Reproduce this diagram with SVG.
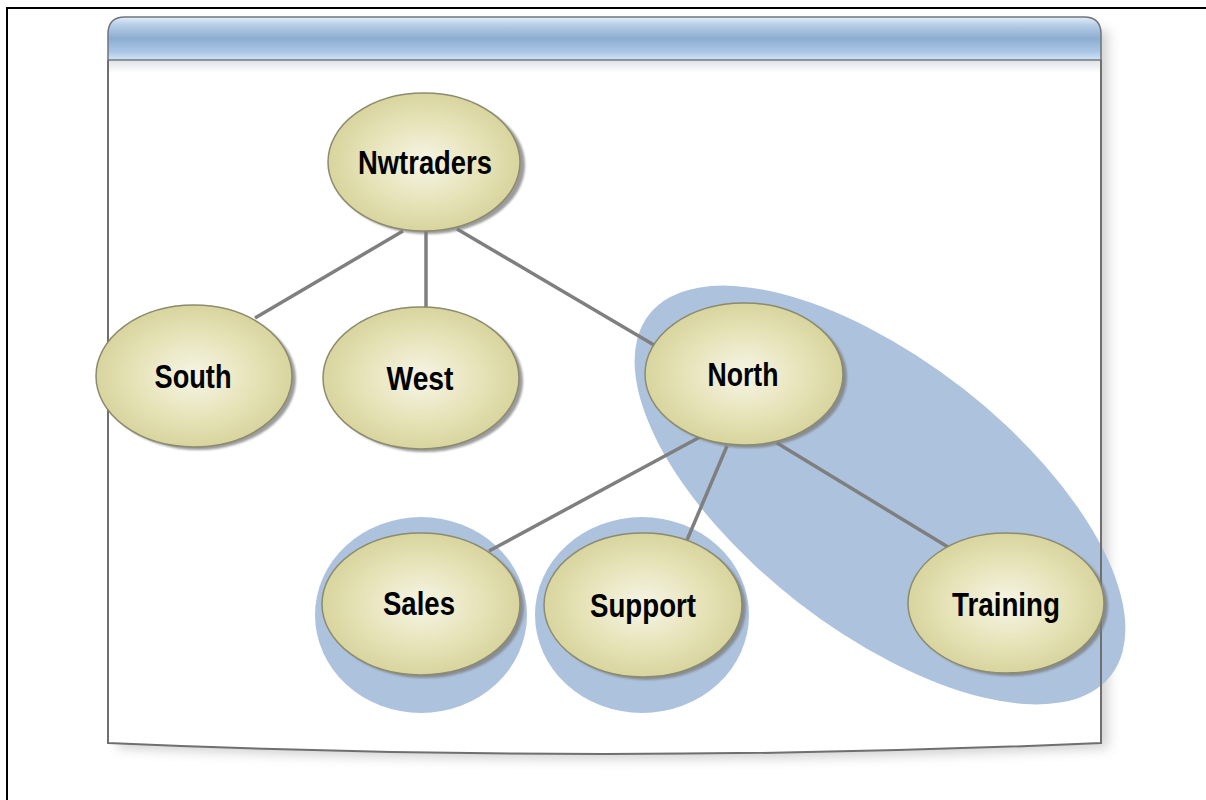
<svg xmlns="http://www.w3.org/2000/svg" width="1206" height="800" viewBox="0 0 1206 800">
<defs>
<style>
.node-shape{fill:url(#nodeGrad);stroke:#8c8b6e;stroke-width:1.5}
.node-shadow{fill:#7a7a7a;opacity:0.75}
.lbl{font-family:"Liberation Sans",Arial,sans-serif;font-weight:bold;font-size:33px;fill:#000;text-anchor:middle}
.conn{stroke:#7f7f7f;stroke-width:3.5;fill:none;stroke-linecap:butt}
.grp{fill:#adc2dd}
</style>
<radialGradient id="nodeGrad" cx="0.5" cy="0.5" r="0.55">
<stop offset="0" stop-color="#f6f5e6"/>
<stop offset="0.55" stop-color="#e6e3b8"/>
<stop offset="1" stop-color="#d5d198"/>
</radialGradient>
<linearGradient id="hdrGrad" x1="0" y1="0" x2="0" y2="1">
<stop offset="0" stop-color="#e2ecf7"/>
<stop offset="0.2" stop-color="#b4cce6"/>
<stop offset="0.5" stop-color="#8dadd0"/>
<stop offset="0.8" stop-color="#a9c6e6"/>
<stop offset="1" stop-color="#d3e4f6"/>
</linearGradient>
<linearGradient id="hdrShadow" x1="0" y1="0" x2="0" y2="1">
<stop offset="0" stop-color="#dfe3e8"/>
<stop offset="1" stop-color="#ffffff"/>
</linearGradient>
<filter id="blur" x="-10%" y="-10%" width="120%" height="120%">
<feGaussianBlur stdDeviation="6"/>
</filter>
<filter id="nblur" x="-10%" y="-10%" width="120%" height="120%">
<feGaussianBlur stdDeviation="1.2"/>
</filter>
</defs>
<rect x="0" y="0" width="1206" height="800" fill="#ffffff"/>
<path d="M7 800 V8 H1206" fill="none" stroke="#000" stroke-width="2"/>

<g id="panel">
<path d="M118 30 H1108 V748 Q612 770 118 748 Z" fill="#9a9a9a" opacity="0.45" filter="url(#blur)"/>
<path d="M108 60 H1101 V743 Q604 765 108 743 Z" fill="#ffffff"/>
<rect x="109" y="61" width="991" height="12" fill="url(#hdrShadow)"/>
<path d="M108 60 V34 Q108 17 125 17 H1084 Q1101 17 1101 34 V60 Z" fill="url(#hdrGrad)" stroke="#6f747a" stroke-width="1.5"/>
</g>

<g id="groups">
<ellipse class="grp" cx="880" cy="495" rx="293" ry="135" transform="rotate(38 880 495)"/>
<ellipse class="grp" cx="421" cy="615" rx="106" ry="98"/>
<ellipse class="grp" cx="642" cy="615" rx="107" ry="98"/>
</g>

<path d="M1101 60 V743 Q604 765 108 743 V60" fill="none" stroke="#6f6f6f" stroke-width="2"/>

<g id="connectors">
<line class="conn" x1="403" y1="231" x2="255" y2="318"/>
<line class="conn" x1="426" y1="231" x2="426" y2="307"/>
<line class="conn" x1="457" y1="229" x2="654" y2="345"/>
<line class="conn" x1="700" y1="437" x2="489" y2="551"/>
<line class="conn" x1="727" y1="446" x2="687" y2="540"/>
<line class="conn" x1="777" y1="443" x2="948" y2="547"/>
</g>

<g id="node-nwtraders">
<ellipse class="node-shadow" cx="428" cy="165" rx="97" ry="69" filter="url(#nblur)"/>
<ellipse class="node-shape" cx="424" cy="162" rx="96" ry="69"/>
<text class="lbl" x="425" y="174" textLength="134" lengthAdjust="spacingAndGlyphs">Nwtraders</text>
</g>
<g id="node-south">
<ellipse class="node-shadow" cx="198" cy="379" rx="98" ry="71" filter="url(#nblur)"/>
<ellipse class="node-shape" cx="194" cy="376" rx="98" ry="71"/>
<text class="lbl" x="193" y="388" textLength="77" lengthAdjust="spacingAndGlyphs">South</text>
</g>
<g id="node-west">
<ellipse class="node-shadow" cx="425" cy="381" rx="98" ry="71" filter="url(#nblur)"/>
<ellipse class="node-shape" cx="421" cy="378" rx="98" ry="71"/>
<text class="lbl" x="420" y="390" textLength="67" lengthAdjust="spacingAndGlyphs">West</text>
</g>
<g id="node-north">
<ellipse class="node-shadow" cx="748" cy="377" rx="99" ry="71" filter="url(#nblur)"/>
<ellipse class="node-shape" cx="744" cy="374" rx="99" ry="71"/>
<text class="lbl" x="743" y="386" textLength="71" lengthAdjust="spacingAndGlyphs">North</text>
</g>
<g id="node-sales">
<ellipse class="node-shadow" cx="425" cy="607" rx="99" ry="71" filter="url(#nblur)"/>
<ellipse class="node-shape" cx="421" cy="604" rx="99" ry="71"/>
<text class="lbl" x="419" y="615" textLength="72" lengthAdjust="spacingAndGlyphs">Sales</text>
</g>
<g id="node-support">
<ellipse class="node-shadow" cx="647" cy="608" rx="99" ry="72" filter="url(#nblur)"/>
<ellipse class="node-shape" cx="643" cy="605" rx="99" ry="72"/>
<text class="lbl" x="643" y="617" textLength="106" lengthAdjust="spacingAndGlyphs">Support</text>
</g>
<g id="node-training">
<ellipse class="node-shadow" cx="1010" cy="606" rx="98" ry="70" filter="url(#nblur)"/>
<ellipse class="node-shape" cx="1006" cy="603" rx="98" ry="70"/>
<text class="lbl" x="1006" y="616" textLength="108" lengthAdjust="spacingAndGlyphs">Training</text>
</g>
</svg>
